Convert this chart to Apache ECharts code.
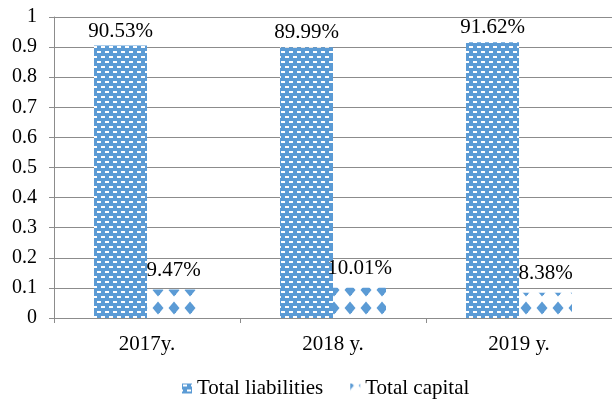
<!DOCTYPE html>
<html>
<head>
<meta charset="utf-8">
<script src="https://cdn.jsdelivr.net/npm/echarts@6/dist/echarts.min.js"></script>
<style>html,body{margin:0;padding:0;background:#fff;}#c{width:612px;height:405px;}</style>
</head>
<body>
<div id="c"></div>
<script>
var categories = ['2017y.', '2018 y.', '2019 y.'];
var liabilities = [0.9053, 0.8999, 0.9162];
var capital = [0.0947, 0.1001, 0.0838];
var yTicks = ['0', '0.1', '0.2', '0.3', '0.4', '0.5', '0.6', '0.7', '0.8', '0.9', '1'];

var BLUE = '#5B9BD5';
var FONT = 'Liberation Serif';

function dashPattern() {
  var c = document.createElement('canvas');
  c.width = 8; c.height = 10;
  var g = c.getContext('2d');
  g.fillStyle = BLUE; g.fillRect(0, 0, 8, 10);
  g.fillStyle = '#ffffff';
  g.fillRect(1, 1, 4, 2);
  g.fillRect(5, 6, 4, 2);
  g.fillRect(-3, 6, 4, 2);
  return c;
}
function diamondPattern() {
  var c = document.createElement('canvas');
  var w = 16, h = 18;
  c.width = w; c.height = h;
  var g = c.getContext('2d');
  g.fillStyle = '#ffffff'; g.fillRect(0, 0, w, h);
  g.fillStyle = BLUE;
  var cx = 14, cy = 2;
  for (var dx = -1; dx <= 1; dx++) for (var dy = -1; dy <= 1; dy++) {
    var x = cx + dx * w, y = cy + dy * h;
    g.beginPath();
    g.moveTo(x, y - 6.5); g.lineTo(x + 5.5, y); g.lineTo(x, y + 6.5); g.lineTo(x - 5.5, y);
    g.closePath(); g.fill();
  }
  return c;
}

var chart = echarts.init(document.getElementById('c'), null, {renderer: 'canvas'});
function pct(p) { return (p.value * 100).toFixed(2) + '%'; }
chart.setOption({
  animation: false,
  textStyle: {fontFamily: FONT},
  grid: {left: 54, right: 0, top: 17, bottom: 87, containLabel: false},
  legend: {
    top: 373, left: 177, itemWidth: 10, itemHeight: 10, itemGap: 27,
    icon: 'rect',
    textStyle: {fontFamily: FONT, fontSize: 21, color: '#000'},
    data: ['Total liabilities', 'Total capital']
  },
  xAxis: {
    type: 'category', data: categories,
    axisLine: {lineStyle: {color: '#8c8c8c', width: 1}},
    axisTick: {show: true, length: 5, lineStyle: {color: '#8c8c8c'}},
    axisLabel: {fontFamily: FONT, fontSize: 21, color: '#000', margin: 16}
  },
  yAxis: {
    type: 'value', min: 0, max: 1, interval: 0.1,
    axisLine: {show: true, lineStyle: {color: '#8c8c8c', width: 1}},
    axisTick: {show: true, length: 5, lineStyle: {color: '#8c8c8c'}},
    splitLine: {lineStyle: {color: '#8c8c8c', width: 1}},
    axisLabel: {fontFamily: FONT, fontSize: 20, color: '#000', margin: 17,
      formatter: function (v) { return yTicks[Math.round(v * 10)]; }}
  },
  series: [
    {name: 'Total liabilities', type: 'bar', data: liabilities, barWidth: 53, barGap: '0%',
     itemStyle: {color: {image: dashPattern(), repeat: 'repeat'}},
     label: {show: true, position: 'top', distance: 4, fontFamily: FONT, fontSize: 21, color: '#000', formatter: pct}},
    {name: 'Total capital', type: 'bar', data: capital, barWidth: 53, barGap: '0%',
     itemStyle: {color: {image: diamondPattern(), repeat: 'repeat'}},
     label: {show: true, position: 'top', distance: 9, fontFamily: FONT, fontSize: 21, color: '#000', formatter: pct}}
  ]
});
</script>
</body>
</html>
